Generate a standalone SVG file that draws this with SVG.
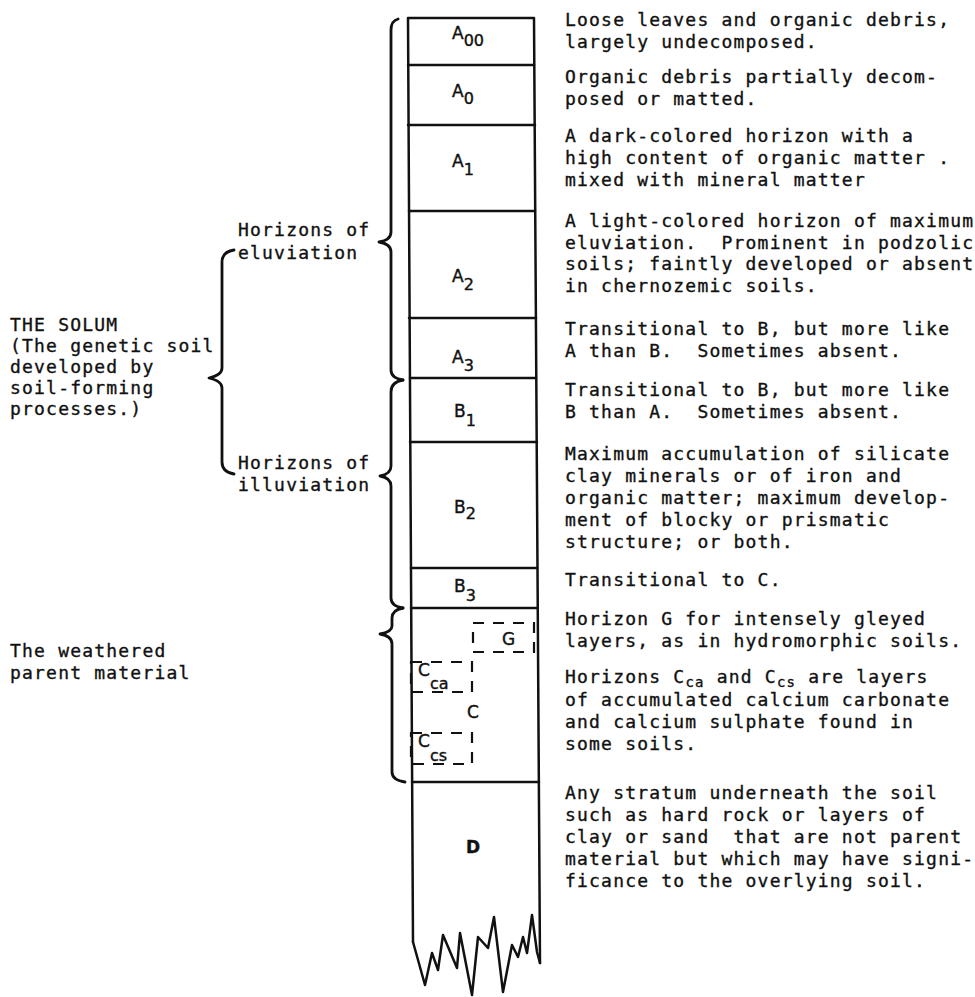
<svg xmlns="http://www.w3.org/2000/svg" width="975" height="997" viewBox="0 0 975 997">
<style>
  .t { font-family: "DejaVu Sans Mono", "Liberation Mono", monospace; font-size: 18px; letter-spacing: 1.2px; fill: #111; stroke: #111; stroke-width: 0.35; white-space: pre; }
  .lbl { font-family: "DejaVu Sans", "Liberation Sans", sans-serif; font-size: 17px; fill: #111; stroke: #111; stroke-width: 0.4; }
  .sub { font-size: 16px; }
  .ln { fill: none; stroke: #111; stroke-width: 2.5; stroke-linejoin: round; stroke-linecap: round; }
  .br { fill: none; stroke: #111; stroke-width: 2.8; stroke-linecap: round; stroke-linejoin: round; }
  .dash { fill: none; stroke: #111; stroke-width: 2.2; stroke-dasharray: 11 9; }
</style>
<rect x="0" y="0" width="975" height="997" fill="#fff"/>

<g id="column">
  <path class="ln" d="M408 18 L534 18 M408 18 L413 942 M534 18 L540 963"/>
  <path class="ln" d="M408 65 L534 65 M408 125 L535 125 M409 211 L535 211 M409 318 L536 318 M410 378 L536 378 M410 442 L537 442 M411 568 L537 568 M411 608 L537 608 M412 782 L539 782"/>
  <path class="ln" d="M413 942 L425 985 L432 953 L438 970 L443 935 L457 968 L460 933 L472 995 L478 937 L488 948 L494 917 L503 992 L512 945 L518 957 L523 937 L527 953 L532 915 L537 952 L540 963"/>
</g>

<g id="horizon-A00"><text class="lbl" x="452" y="39">A<tspan class="sub" dy="7">00</tspan></text></g>
<g id="horizon-A0"><text class="lbl" x="452" y="97">A<tspan class="sub" dy="7">0</tspan></text></g>
<g id="horizon-A1"><text class="lbl" x="452" y="167">A<tspan class="sub" dy="8">1</tspan></text></g>
<g id="horizon-A2"><text class="lbl" x="452" y="282">A<tspan class="sub" dy="8">2</tspan></text></g>
<g id="horizon-A3"><text class="lbl" x="452" y="363">A<tspan class="sub" dy="8">3</tspan></text></g>
<g id="horizon-B1"><text class="lbl" x="454" y="417">B<tspan class="sub" dy="9">1</tspan></text></g>
<g id="horizon-B2"><text class="lbl" x="454" y="513">B<tspan class="sub" dy="6">2</tspan></text></g>
<g id="horizon-B3"><text class="lbl" x="454" y="592">B<tspan class="sub" dy="9">3</tspan></text></g>
<g id="horizon-C"><text class="lbl" x="467" y="718">C</text></g>
<g id="horizon-G">
  <rect class="dash" x="473" y="623" width="61" height="29"/>
  <text class="lbl" x="502" y="645">G</text>
</g>
<g id="horizon-Cca">
  <rect class="dash" x="411" y="662" width="61" height="30"/>
  <text class="lbl" x="418" y="676">C<tspan class="sub" dy="13">ca</tspan></text>
</g>
<g id="horizon-Ccs">
  <rect class="dash" x="411" y="733" width="61" height="31"/>
  <text class="lbl" x="418" y="747">C<tspan class="sub" dy="14">cs</tspan></text>
</g>
<g id="horizon-D"><text class="lbl" x="466" y="853" font-weight="bold">D</text></g>

<g id="connectors">
  <path class="br" d="M398 19 Q391 21 391 30 L391 232 Q391 240 379 242 Q391 244 391 252 L391 370 Q391 378 403 380"/>
  <path class="br" d="M403 380 Q391 382 391 392 L391 466 Q391 474 380 476 Q391 478 391 486 L391 598 Q391 606 403 608"/>
  <path class="br" d="M403 608 Q392 610 392 618 L392 626 Q392 632 380 634 Q392 636 392 644 L392 772 Q392 780 405 782"/>
  <path class="br" d="M234 250 Q222 252 222 262 L222 368 Q222 375 209 378 Q222 381 222 388 L222 462 Q222 472 234 474"/>
</g>

<g id="left-labels">
  <text class="t" x="238" y="236">Horizons of</text>
  <text class="t" x="238" y="259">eluviation</text>
  <text class="t" x="238" y="469">Horizons of</text>
  <text class="t" x="238" y="491">illuviation</text>
  <text class="t" x="10" y="331">THE SOLUM</text>
  <text class="t" x="10" y="352">(The genetic soil</text>
  <text class="t" x="10" y="373">developed by</text>
  <text class="t" x="10" y="394">soil-forming</text>
  <text class="t" x="10" y="415">processes.)</text>
  <text class="t" x="10" y="657">The weathered</text>
  <text class="t" x="10" y="679">parent material</text>
</g>

<g id="descriptions">
  <text class="t" x="565" y="26">Loose leaves and organic debris,</text>
  <text class="t" x="565" y="48">largely undecomposed.</text>
  <text class="t" x="565" y="83">Organic debris partially decom-</text>
  <text class="t" x="565" y="105">posed or matted.</text>
  <text class="t" x="565" y="142">A dark-colored horizon with a</text>
  <text class="t" x="565" y="164">high content of organic matter .</text>
  <text class="t" x="565" y="186">mixed with mineral matter</text>
  <text class="t" x="565" y="227">A light-colored horizon of maximum</text>
  <text class="t" x="565" y="249">eluviation.  Prominent in podzolic</text>
  <text class="t" x="565" y="270">soils; faintly developed or absent</text>
  <text class="t" x="565" y="292">in chernozemic soils.</text>
  <text class="t" x="565" y="335">Transitional to B, but more like</text>
  <text class="t" x="565" y="357">A than B.  Sometimes absent.</text>
  <text class="t" x="565" y="396">Transitional to B, but more like</text>
  <text class="t" x="565" y="418">B than A.  Sometimes absent.</text>
  <text class="t" x="565" y="460">Maximum accumulation of silicate</text>
  <text class="t" x="565" y="482">clay minerals or of iron and</text>
  <text class="t" x="565" y="504">organic matter; maximum develop-</text>
  <text class="t" x="565" y="526">ment of blocky or prismatic</text>
  <text class="t" x="565" y="548">structure; or both.</text>
  <text class="t" x="565" y="586">Transitional to C.</text>
  <text class="t" x="565" y="625">Horizon G for intensely gleyed</text>
  <text class="t" x="565" y="647">layers, as in hydromorphic soils.</text>
  <text class="t" x="565" y="683">Horizons C<tspan font-size="14" dy="4">ca</tspan><tspan dy="-4"> and C</tspan><tspan font-size="14" dy="4">cs</tspan><tspan dy="-4"> are layers</tspan></text>
  <text class="t" x="565" y="706">of accumulated calcium carbonate</text>
  <text class="t" x="565" y="728">and calcium sulphate found in</text>
  <text class="t" x="565" y="750">some soils.</text>
  <text class="t" x="565" y="799">Any stratum underneath the soil</text>
  <text class="t" x="565" y="821">such as hard rock or layers of</text>
  <text class="t" x="565" y="843">clay or sand  that are not parent</text>
  <text class="t" x="565" y="865">material but which may have signi-</text>
  <text class="t" x="565" y="887">ficance to the overlying soil.</text>
</g>
</svg>
